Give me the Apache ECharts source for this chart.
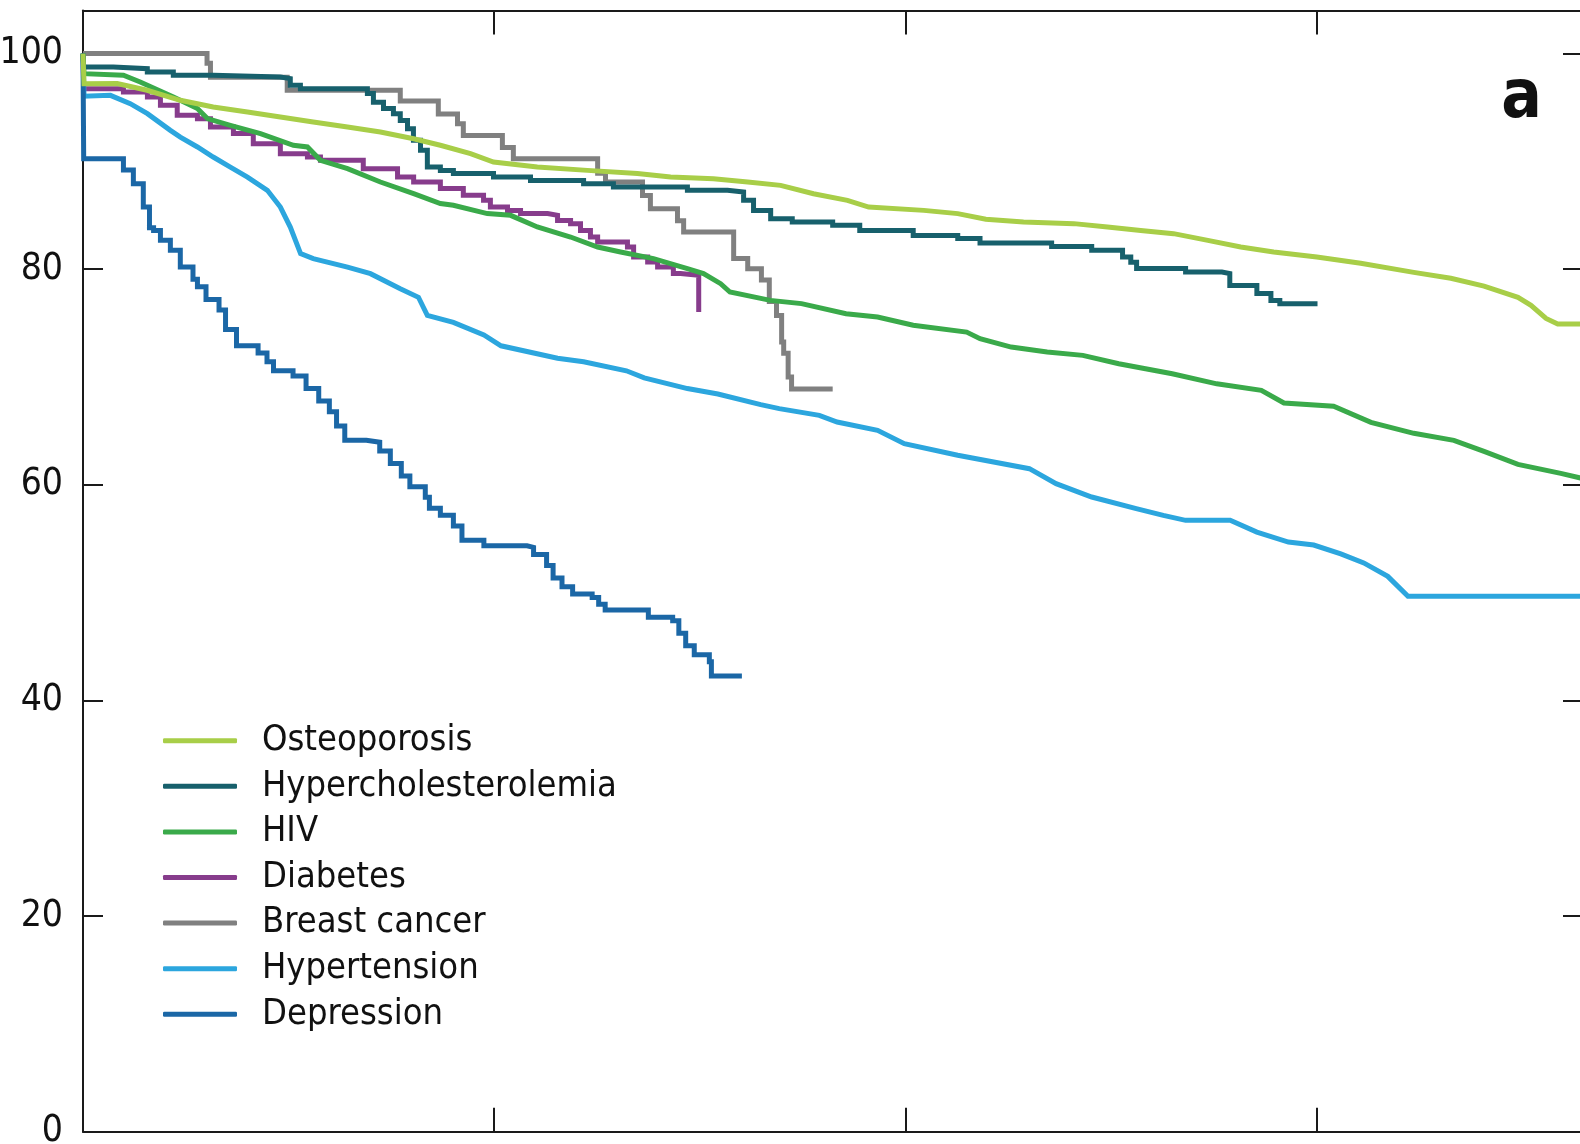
<!DOCTYPE html>
<html>
<head>
<meta charset="utf-8">
<title>Survival by condition</title>
<script src="https://cdn.jsdelivr.net/npm/echarts@6/dist/echarts.min.js"></script>
<style>
  html, body { margin: 0; padding: 0; background: #fff; }
  #chart { width: 1580px; height: 1144px; }
</style>
</head>
<body>
<div id="chart"></div>
<script>
var FONT = "'DejaVu Sans Condensed', 'Liberation Sans Narrow', 'Noto Sans', sans-serif";

// x = months of follow-up, y = percent still on treatment
var xMax = 43.72, xStep = 12;
var yMax = 104, yStep = 20;
var panelLabel = 'a';

var legendOrder = ['Osteoporosis', 'Hypercholesterolemia', 'HIV', 'Diabetes', 'Breast cancer', 'Hypertension', 'Depression'];

var osteoporosis = [[0,100],[0.03,97.2],[1.0,97.22],[1.87,96.6],[2.84,95.67],[3.8,95.05],[4.8,94.58],[5.76,94.12],[6.72,93.65],[7.72,93.19],[8.68,92.73],[9.65,92.1],[10.43,91.5],[11.31,90.72],[11.98,89.94],[13.26,89.48],[14.72,89.17],[16.18,88.87],[17.15,88.55],[18.4,88.4],[19.4,88.09],[20.36,87.78],[21.32,87.0],[22.31,86.39],[22.93,85.77],[24.54,85.46],[25.53,85.16],[26.35,84.63],[27.45,84.38],[28.92,84.23],[29.9,83.91],[30.87,83.6],[31.83,83.3],[32.83,82.68],[33.79,82.06],[34.75,81.6],[36.01,81.13],[37.29,80.55],[38.84,79.71],[39.92,79.16],[40.89,78.44],[41.88,77.39],[42.26,76.65],[42.7,75.44],[43.04,74.92],[43.72,74.92]];

var hypercholesterolemia = [[0,100],[0.02,98.76],[0.885,98.6],[1.877,98.3],[2.636,98.0],[3.804,97.83],[5.76,97.68],[6.05,97.06],[6.345,96.75],[8.3,96.29],[8.476,95.5],[8.77,94.9],[9.06,94.43],[9.26,93.8],[9.47,93.04],[9.644,91.96],[9.85,91.03],[10.05,89.48],[10.43,89.17],[10.81,88.87],[11.98,88.55],[13.06,88.24],[14.61,87.94],[15.48,87.63],[17.64,87.32],[18.81,87.16],[19.28,86.4],[19.57,85.46],[20.07,84.69],[20.7,84.38],[21.88,84.07],[22.67,83.6],[24.23,83.14],[25.53,82.84],[26.18,82.43],[28.27,82.12],[29.44,81.75],[30.34,81.13],[30.58,80.64],[30.75,80.06],[32.18,79.74],[33.24,79.6],[33.47,78.5],[34.26,77.74],[34.67,77.11],[34.93,76.8],[36.03,76.8]];

var hiv = [[0,100],[0.03,98.14],[1.18,97.99],[1.67,97.37],[2.64,95.97],[3.34,94.9],[3.63,93.97],[4.3,93.35],[5.18,92.58],[6.14,91.5],[6.55,91.34],[6.93,90.1],[7.72,89.33],[8.68,88.09],[9.65,87.01],[10.43,86.09],[10.81,85.93],[11.8,85.16],[12.48,85.0],[13.26,83.92],[14.23,82.99],[15.02,82.06],[15.69,81.6],[16.65,80.98],[17.64,80.06],[18.11,79.6],[18.61,78.66],[18.88,77.89],[20.06,77.11],[20.97,76.81],[22.27,75.88],[23.19,75.57],[24.23,74.8],[25.79,74.17],[26.18,73.56],[27.09,72.78],[28.14,72.32],[29.18,72.01],[30.23,71.24],[31.79,70.3],[33.09,69.37],[34.39,68.77],[35.05,67.6],[36.5,67.3],[37.59,65.8],[38.84,64.78],[40.01,64.13],[40.89,63.1],[41.88,61.9],[43.13,61.07],[43.72,60.63]];

var diabetes = [[0,100],[0.02,96.75],[1.18,96.44],[1.88,95.97],[2.26,95.2],[2.75,94.28],[3.34,93.97],[3.72,93.19],[4.39,92.58],[4.97,91.65],[5.76,90.72],[6.55,90.41],[6.93,90.1],[8.18,89.33],[9.18,88.55],[9.65,88.09],[10.43,87.5],[11.1,86.86],[11.69,86.4],[11.89,85.77],[12.39,85.46],[12.77,85.16],[13.56,85.0],[13.85,84.53],[14.23,84.23],[14.52,83.6],[14.81,82.99],[15.02,82.52],[15.89,82.06],[16.07,81.13],[16.48,80.67],[16.77,80.2],[17.23,79.6],[17.44,79.43],[17.97,76.03]];

var breastCancer = [[0,100],[3.62,99.1],[3.72,97.8],[5.96,96.6],[9.26,95.6],[10.37,94.4],[10.93,93.5],[11.1,92.4],[12.24,91.3],[12.56,90.26],[15.02,88.9],[15.25,88.1],[16.33,86.85],[16.56,85.6],[17.35,84.5],[17.53,83.45],[18.99,81.0],[19.4,80.05],[19.8,79.0],[20.03,77.0],[20.24,75.7],[20.39,73.25],[20.45,72.2],[20.58,70.0],[20.68,68.9],[21.88,68.9]];

var hypertension = [[0,100],[0.03,96.05],[0.8,96.13],[1.38,95.36],[1.88,94.43],[2.55,92.88],[2.84,92.26],[3.34,91.34],[3.8,90.41],[4.3,89.48],[4.8,88.55],[5.38,87.32],[5.76,85.77],[6.05,83.91],[6.35,81.45],[6.72,80.98],[7.72,80.2],[8.39,79.59],[9.26,78.2],[9.79,77.4],[10.05,75.72],[10.81,75.07],[11.7,73.9],[12.2,72.9],[13.85,71.74],[14.61,71.42],[15.86,70.58],[16.38,69.93],[17.64,68.93],[18.53,68.43],[19.78,67.44],[20.32,67.07],[21.49,66.45],[22.01,65.83],[23.19,65.06],[23.97,63.82],[25.53,62.74],[27.62,61.5],[28.4,60.11],[29.44,58.87],[30.74,57.79],[31.53,57.17],[32.18,56.71],[33.48,56.71],[34.26,55.62],[35.18,54.69],[35.92,54.42],[36.71,53.59],[37.38,52.76],[38.08,51.51],[38.67,49.66],[43.72,49.66]];

var depression = [[0,100],[0.02,90.26],[0.8,90.26],[1.18,89.2],[1.47,87.94],[1.76,85.77],[1.94,83.84],[2.06,83.6],[2.26,82.68],[2.55,81.75],[2.84,80.2],[3.21,79.06],[3.34,78.38],[3.59,77.2],[3.97,76.22],[4.16,74.42],[4.48,72.9],[5.11,72.24],[5.37,71.42],[5.56,70.58],[6.13,70.09],[6.51,68.93],[6.88,67.77],[7.19,66.78],[7.4,65.46],[7.64,64.13],[8.27,63.96],[8.66,63.14],[8.97,61.98],[9.29,60.82],[9.54,59.82],[9.99,58.84],[10.11,57.82],[10.43,57.17],[10.81,56.18],[11.06,54.85],[11.7,54.35],[12.96,54.2],[13.15,53.55],[13.53,52.53],[13.72,51.37],[13.98,50.55],[14.29,49.88],[14.86,49.56],[15.05,48.92],[15.24,48.4],[16.5,47.73],[17.21,47.39],[17.39,46.23],[17.59,45.07],[17.84,44.25],[18.28,43.59],[18.34,42.26],[19.23,42.26]];

var chart = echarts.init(document.getElementById('chart'));

// drawn bottom-up: later entries sit on top
var curves = [
    {name: 'Breast cancer', data: breastCancer, color: '#808080', step: 'end'},
    {name: 'Diabetes', data: diabetes, color: '#873c8c', step: 'end'},
    {name: 'Hypertension', data: hypertension, color: '#2ca6de', step: false},
    {name: 'Depression', data: depression, color: '#1b67a6', step: 'end'},
    {name: 'HIV', data: hiv, color: '#3aaa4a', step: false},
    {name: 'Hypercholesterolemia', data: hypercholesterolemia, color: '#17606c', step: 'end'},
    {name: 'Osteoporosis', data: osteoporosis, color: '#a8ce48', step: false}
];

var series = curves.map(function (c) {
    return {
        name: c.name,
        type: 'line',
        data: c.data,
        step: c.step,
        symbol: 'none',
        smooth: false,
        color: c.color,
        itemStyle: {color: c.color},
        lineStyle: {width: 5, color: c.color, join: 'miter'},
        emphasis: {disabled: true},
        animation: false
    };
});

var frame = {show: true, onZero: false, lineStyle: {color: '#1a1a1a', width: 2}};

function xAxisAt(pos) {
    return {
        type: 'value', position: pos, min: 0, max: xMax, interval: xStep,
        axisLine: frame,
        axisTick: {show: true, inside: true, length: 24, lineStyle: {color: '#1a1a1a', width: 2}},
        axisLabel: {show: false},
        splitLine: {show: false}
    };
}

function yAxisAt(pos, labels, tickLen) {
    return {
        type: 'value', position: pos, min: 0, max: yMax, interval: yStep,
        axisLine: frame,
        axisTick: {show: true, inside: true, length: tickLen, lineStyle: {color: '#1a1a1a', width: 2}},
        axisLabel: {
            show: labels, showMaxLabel: false, margin: 20,
            fontFamily: FONT, fontSize: 37, color: '#111'
        },
        splitLine: {show: false}
    };
}

chart.setOption({
    backgroundColor: '#fff',
    animation: false,
    grid: {left: 83, right: -1, top: 10.5, bottom: 12.3, outerBoundsMode: 'none', containLabel: false},
    xAxis: [xAxisAt('bottom'), xAxisAt('top')],
    yAxis: [yAxisAt('left', true, 20), yAxisAt('right', false, 18)],
    legend: {
        data: legendOrder,
        orient: 'vertical',
        left: 163,
        top: 712.7,
        padding: 0,
        icon: 'roundRect',
        itemWidth: 74,
        itemHeight: 5,
        itemGap: -10.4,
        selectedMode: false,
        textStyle: {
            fontFamily: FONT, fontSize: 36, color: '#111',
            lineHeight: 44, padding: [12, 0, 0, 20]
        }
    },
    graphic: [{
        type: 'text',
        right: 38,
        top: 66,
        style: {text: panelLabel, font: 'bold 67px ' + FONT, fill: '#111'}
    }],
    series: series
});
</script>
</body>
</html>
